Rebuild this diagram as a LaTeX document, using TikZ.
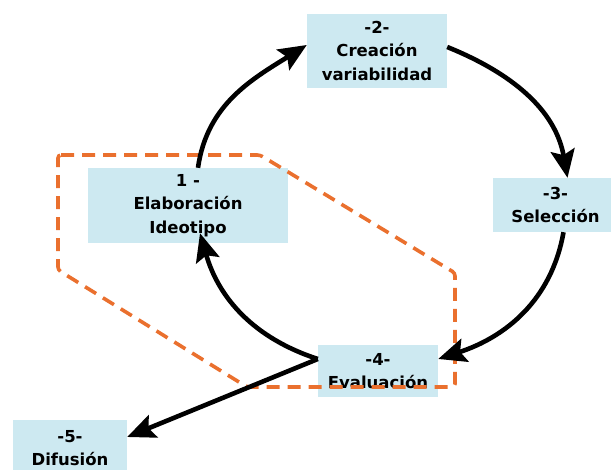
\documentclass[tikz,border=0pt]{standalone}
\usepackage{fontspec}
\setmainfont{DejaVu Sans}
\usetikzlibrary{arrows.meta}

\definecolor{celeste}{RGB}{205,233,241}
\definecolor{naranja}{RGB}{234,112,46}

\tikzset{
	etapa/.style={fill=celeste, align=center, inner sep=0pt, font=\bfseries\fontsize{16.5}{23.5}\selectfont},
	flecha/.style={line width=4.6pt, -{Stealth[length=28pt,width=24pt,inset=5pt]}},
	zona/.style={draw=naranja, line width=3.6pt, dash pattern=on 13pt off 8pt, rounded corners=3pt}
}

\begin{document}
\begin{tikzpicture}[x=1pt,y=1pt]
				\useasboundingbox (0,0) rectangle (611,470);
				
				\node[etapa, minimum width=200, minimum height=75] (ideo) at (188,264.5) {1 -\\Elaboración\\Ideotipo};
				\node[etapa, minimum width=140, minimum height=74] (crea) at (377,419) {-2-\\Creación\\variabilidad};
				\node[etapa, minimum width=125, minimum height=54] (sele) at (555.5,265) {-3-\\Selección};
				\node[etapa, minimum width=120, minimum height=52] (eval) at (378,99) {-4-\\Evaluación};
				\node[etapa, minimum width=114, minimum height=56] (difu) at (70,22) {-5-\\Difusión};
				
				\draw[zona] (58,315) -- (260,315) -- (455,197) -- (455,83) -- (247,83) -- (58,200) -- cycle;
				
				\draw[flecha] ([xshift=10pt]ideo.north) to[out=82, in=212] ([yshift=6pt]crea.west);
				\draw[flecha] ([yshift=4pt]crea.east) to[out=-22, in=100] ([xshift=12pt]sele.north);
				\draw[flecha] ([xshift=8pt]sele.south) to[out=-100, in=18] ([yshift=12pt]eval.east);
				\draw[flecha] ([yshift=12pt]eval.west) to[out=162, in=-74] ([xshift=12pt,yshift=10pt]ideo.south);
				\draw[flecha] ([yshift=12pt]eval.west) -- ([yshift=11pt]difu.east);
			\end{tikzpicture}
\end{document}
